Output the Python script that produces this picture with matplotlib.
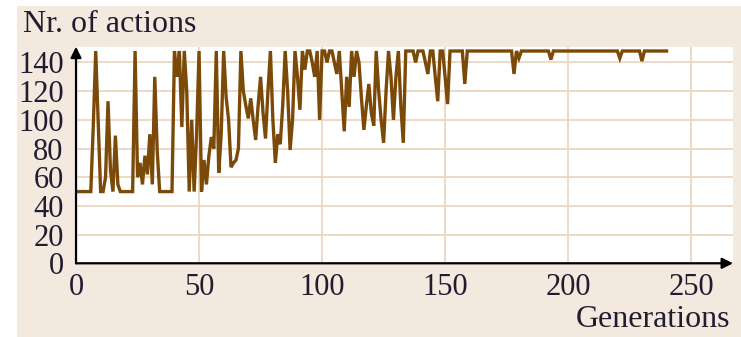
# Number of actions per generation for the evolved controller.
import matplotlib
matplotlib.use("Agg")
import matplotlib.pyplot as plt
from matplotlib.patches import Rectangle

# Generation index runs 1..240
generations = list(range(1, 241))
actions = [
    50, 50, 50, 50, 50, 50, 95, 148, 100, 50,
    50, 60, 113, 65, 50, 89, 55, 50, 50, 50,
    50, 50, 50, 148, 60, 70, 55, 75, 62, 90,
    55, 130, 78, 50, 50, 50, 50, 50, 50, 148,
    130, 148, 95, 148, 120, 50, 100, 50, 90, 148,
    50, 72, 55, 75, 88, 80, 148, 63, 90, 148,
    116, 100, 67, 70, 72, 80, 148, 120, 110, 101,
    115, 100, 86, 110, 130, 105, 87, 120, 148, 100,
    70, 90, 83, 110, 148, 120, 79, 100, 148, 130,
    107, 148, 135, 148, 148, 140, 130, 148, 100, 148,
    148, 140, 148, 148, 140, 132, 148, 120, 92, 130,
    109, 148, 130, 148, 140, 115, 93, 110, 125, 105,
    96, 148, 120, 100, 84, 120, 148, 130, 100, 130,
    148, 110, 84, 148, 148, 148, 148, 140, 148, 148,
    148, 140, 132, 148, 148, 130, 113, 148, 148, 130,
    111, 148, 148, 148, 148, 148, 148, 125, 148, 148,
    148, 148, 148, 148, 148, 148, 148, 148, 148, 148,
    148, 148, 148, 148, 148, 148, 148, 132, 148, 143,
    148, 148, 148, 148, 148, 148, 148, 148, 148, 148,
    148, 148, 142, 148, 148, 148, 148, 148, 148, 148,
    148, 148, 148, 148, 148, 148, 148, 148, 148, 148,
    148, 148, 148, 148, 148, 148, 148, 148, 148, 148,
    143, 148, 148, 148, 148, 148, 148, 148, 148, 141,
    148, 148, 148, 148, 148, 148, 148, 148, 148, 148,
]
x_ticks = [0, 50, 100, 150, 200, 250]
y_ticks = [0, 20, 40, 60, 80, 100, 120, 140]

BEIGE = "#f3e9df"
GRID = "#ecd8c0"
LINE = "#7b4a08"
TEXT = "#221c30"

plt.rcParams["font.family"] = ["Liberation Serif", "DejaVu Serif"]

fig = plt.figure(figsize=(7.41, 3.37), dpi=100)
fig.patch.set_facecolor("white")
# beige panel behind everything, leaving a thin white margin top-left
panel = Rectangle((17 / 741, 0), 1, 1 - 5.5 / 337,
                  transform=fig.transFigure, facecolor=BEIGE,
                  edgecolor="none", zorder=-10)
fig.patches.append(panel)

ax = fig.add_axes([0.1026, 0.2187, 0.9892 - 0.1026, 0.8614 - 0.2187])
ax.set_zorder(1)
ax.set_facecolor("white")
ax.plot(generations, actions, color=LINE, lw=2.4, zorder=3,
        solid_joinstyle="miter")

ax.set_xlim(1, 267)
ax.set_ylim(0, 151)
ax.set_xticks(x_ticks)
ax.set_yticks(y_ticks)
ax.grid(True, color=GRID, lw=1.3, zorder=1)
ax.tick_params(length=0, labelsize=22, labelcolor=TEXT)
ax.tick_params(axis="y", pad=9)
ax.tick_params(axis="x", pad=7)

for side in ["top", "right", "left", "bottom"]:
    ax.spines[side].set_visible(False)

# axes drawn as arrows
arrow = dict(arrowstyle="-|>", color="black", lw=1.6, mutation_scale=16,
             shrinkA=0, shrinkB=0)
ax.annotate("", xy=(0, 1.0), xytext=(0, 0), xycoords="axes fraction",
            arrowprops=arrow, annotation_clip=False)
ax.annotate("", xy=(1.0, 0), xytext=(0, 0), xycoords="axes fraction",
            arrowprops=arrow, annotation_clip=False)

fig.text(23 / 741, 1 - 32 / 337, "Nr. of actions", fontsize=23, color=TEXT,
         ha="left", va="baseline", zorder=2)
fig.text(730 / 741, 1 - 327 / 337, "Generations", fontsize=23, color=TEXT,
         ha="right", va="baseline", zorder=2)

fig.savefig("out.png", dpi=100, facecolor=fig.get_facecolor())
